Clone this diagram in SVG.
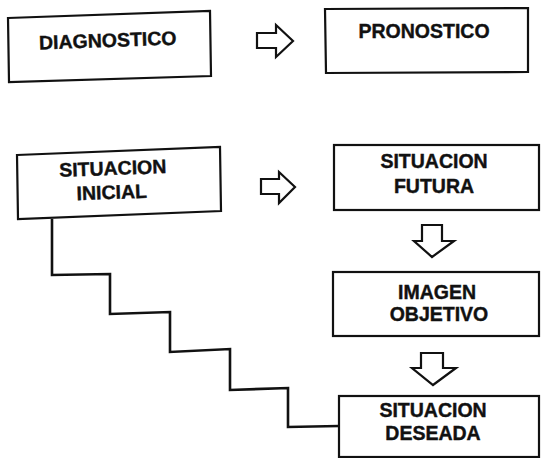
<svg xmlns="http://www.w3.org/2000/svg" width="542" height="458" viewBox="0 0 542 458">
<style>
.box{fill:#fff;stroke:#111;stroke-width:2.2}
.t{font-family:"Liberation Sans",Arial,sans-serif;font-weight:bold;font-size:19.5px;fill:#111;stroke:#111;stroke-width:0.4;text-anchor:middle}
.arr{fill:#fff;stroke:#111;stroke-width:2.2;stroke-linejoin:miter}
.stair{fill:none;stroke:#111;stroke-width:2.6}
</style>
<rect width="542" height="458" fill="#fff"/>
<g id="connectors">
<polyline class="stair" points="52,219 52,275 110,274 110,314 170,312 170,352 230,349 230,390 288,388 288,427 339,426"/>
<polygon class="arr" points="257,33 276,33 276,25 293,41 276,57 276,48 257,48"/>
<polygon class="arr" points="261,179 279,179 279,172 295,187 279,203 279,194 261,194"/>
<polygon class="arr" points="422,225 442,225 442,241 454,241 432,257 414,241 422,241"/>
<polygon class="arr" points="421,353 443,353 443,368 456,368 433,385 412,368 421,368"/>
</g>
<g id="diagnostico">
<polygon class="box" points="8,18 210,11 211,76 9,82"/>
<text class="t" x="108" y="47" transform="rotate(-2 108 47)">DIAGNOSTICO</text>
</g>
<g id="pronostico">
<polygon class="box" points="325,9 528,8 528,72 326,73"/>
<text class="t" x="424" y="38">PRONOSTICO</text>
</g>
<g id="situacion-inicial">
<polygon class="box" points="17,155 220,147 221,211 18,219"/>
<text class="t" x="113" y="175" transform="rotate(-2 113 175)">SITUACION</text>
<text class="t" x="112" y="199" transform="rotate(-2 112 199)">INICIAL</text>
</g>
<g id="situacion-futura">
<rect class="box" x="334" y="145" width="205" height="65"/>
<text class="t" x="434" y="168">SITUACION</text>
<text class="t" x="434" y="193">FUTURA</text>
</g>
<g id="imagen-objetivo">
<rect class="box" x="333" y="272" width="206" height="64"/>
<text class="t" x="437" y="299">IMAGEN</text>
<text class="t" x="439" y="321">OBJETIVO</text>
</g>
<g id="situacion-deseada">
<rect class="box" x="339" y="396" width="200" height="61"/>
<text class="t" x="433" y="417">SITUACION</text>
<text class="t" x="433" y="440">DESEADA</text>
</g>
</svg>
